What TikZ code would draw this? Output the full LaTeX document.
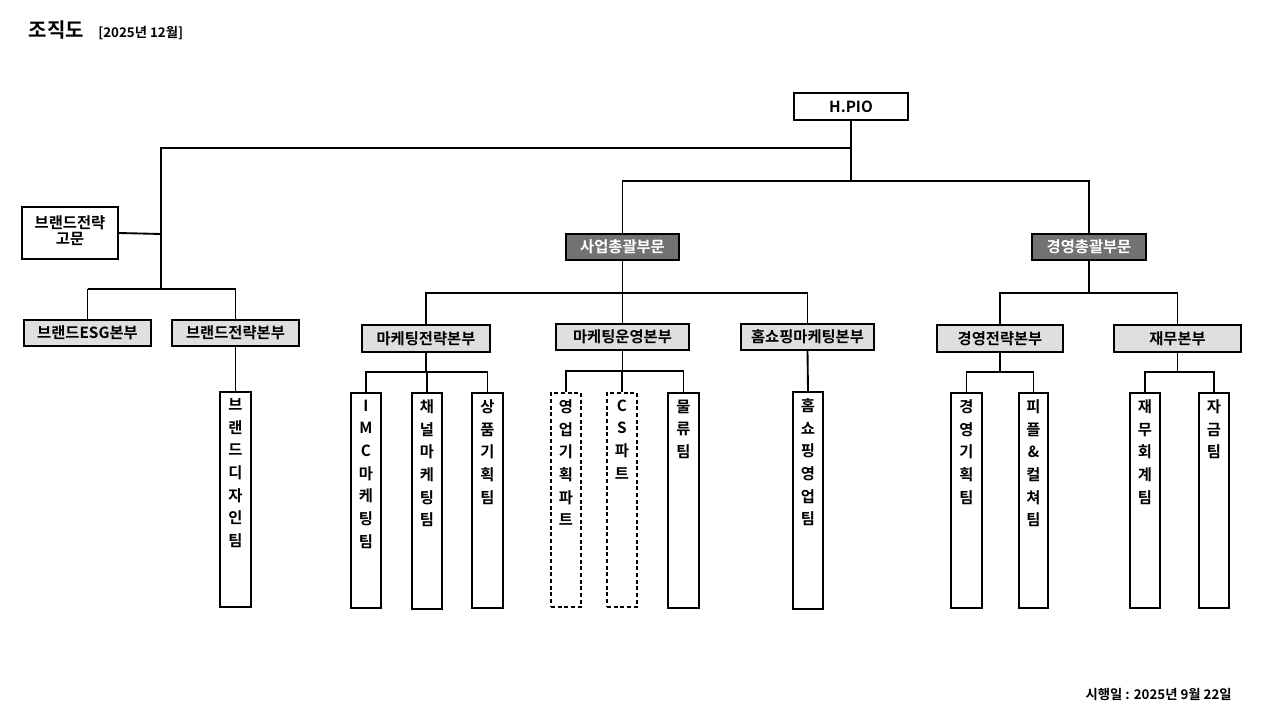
\documentclass[tikz,border=0pt]{standalone}
\usepackage{fontspec}
\setmainfont{Noto Sans CJK KR}[BoldFont={Noto Sans CJK KR Bold}]
\begin{document}
\begin{tikzpicture}[x=0.75pt,y=-0.75pt,
  ln/.style={line width=1.4pt},
  bx/.style={draw,line width=1.4pt,inner sep=0pt,font=\bfseries\fontsize{11.5}{14}\selectfont},
  lt/.style={bx,fill=gray!25},
  dk/.style={bx,fill=gray!70!black!85,text=white},
  dsh/.style={dash pattern=on 3pt off 2pt}]
\useasboundingbox (0,0) rectangle (1280,720);
\node[anchor=base west,font=\bfseries\fontsize{15}{18}\selectfont] (t1) at (24,38) {조직도};
\node[anchor=base west,font=\bfseries\fontsize{10}{12}\selectfont,inner sep=0pt] (t2) at (98,38) {[2025년 12월]};
\node[anchor=base east,font=\bfseries\fontsize{10}{12}\selectfont,inner sep=0pt] (ft) at (1232,699) {시행일 : 2025년 9월 22일};
\newcommand\hb[7][bx]{\node[#1,minimum width={(#4-#2)*0.75pt},minimum height={(#5-#3)*0.75pt}] (#6) at ({(#2+#4)/2},{(#3+#5)/2}) {#7};}
\newcommand\vb[7][bx]{\pgfmathsetlengthmacro\vbh{(#5-#3)*0.75pt-10pt}\pgfmathsetlengthmacro\vbw{(#4-#2)*0.75pt}%
\node[#1,minimum width={(#4-#2)*0.75pt},minimum height={(#5-#3)*0.75pt}] (#6) at ({(#2+#4)/2},{(#3+#5)/2}) {\parbox[c][\vbh][t]{\vbw}{\centering\baselineskip=17pt #7}};}
\hb{794}{93}{908}{120}{hpio}{H.PIO}
\hb{22}{207}{118}{259}{adv}{\begin{tabular}{@{}c@{}}브랜드전략\\[-2pt]고문\end{tabular}}
\hb[lt]{24}{320}{151}{346}{esg}{브랜드ESG본부}
\hb[lt]{172}{320}{299}{346}{bs}{브랜드전략본부}
\hb[dk]{566}{234}{679}{260}{sa}{사업총괄부문}
\hb[dk]{1032}{234}{1146}{260}{ky}{경영총괄부문}
\hb[lt]{362}{325}{490}{352}{ms}{마케팅전략본부}
\hb[lt]{556}{324}{689}{350}{mo}{마케팅운영본부}
\hb[lt]{741}{324}{874}{350}{hs}{홈쇼핑마케팅본부}
\hb[lt]{937}{325}{1063}{352}{ks}{경영전략본부}
\hb[lt]{1114}{325}{1241}{352}{jm}{재무본부}
\vb{220}{392}{251}{607}{bd}{브\\랜\\드\\디\\자\\인\\팀}
\vb{351}{393}{381}{608}{imc}{I\\M\\C\\마\\케\\팅\\팀}
\vb{412}{393}{442}{609}{ch}{채\\널\\마\\케\\팅\\팀}
\vb{472}{393}{503}{608}{sp}{상\\품\\기\\획\\팀}
\vb[bx,dsh]{551}{393}{581}{607}{yg}{영\\업\\기\\획\\파\\트}
\vb[bx,dsh]{607}{393}{637}{607}{cs}{C\\S\\파\\트}
\vb{668}{393}{699}{608}{ml}{물\\류\\팀}
\vb{793}{392}{823}{609}{hy}{홈\\쇼\\핑\\영\\업\\팀}
\vb{951}{393}{982}{608}{kg}{경\\영\\기\\획\\팀}
\vb{1019}{393}{1048}{608}{pc}{피\\플\\\&\\컬\\쳐\\팀}
\vb{1130}{393}{1160}{608}{jh}{재\\무\\회\\계\\팀}
\vb{1199}{393}{1229}{608}{jg}{자\\금\\팀}
% connectors
\draw[ln] (hpio.south) -- (hpio.south|-0,181) -| (sa.north);
\draw[ln] (hpio.south|-0,181) -| (ky.north);
\draw[ln] (hpio.south|-0,148) -| (161,289);
\draw[ln] (adv.east) -- (161,234);
\draw[ln] (88,289) -- (236,289);
\draw[ln] (esg.north) -- (esg.north|-0,289);
\draw[ln] (bs.north) -- (bs.north|-0,289);
\draw[ln] (bs.south) -- (bd.north);
\draw[ln] (sa.south) -- (sa.south|-0,293);
\draw[ln] (ms.north) |- (sa.south|-0,293) -| (hs.north);
\draw[ln] (sa.south|-0,293) -- (mo.north);
\draw[ln] (ky.south) -- (ky.south|-0,293);
\draw[ln] (ks.north) |- (ky.south|-0,293) -| (jm.north);
\draw[ln] (ms.south) -- (ms.south|-0,372);
\draw[ln] (imc.north) |- (ms.south|-0,372) -| (sp.north);
\draw[ln] (ch.north) -- (ch.north|-0,372);
\draw[ln] (mo.south) -- (mo.south|-0,371);
\draw[ln] (yg.north) |- (mo.south|-0,371) -| (ml.north);
\draw[ln] (cs.north) -- (cs.north|-0,371);
\draw[ln] (hs.south) -- (hy.north);
\draw[ln] (ks.south) -- (ks.south|-0,372);
\draw[ln] (kg.north) |- (ks.south|-0,372) -| (pc.north);
\draw[ln] (jm.south) -- (jm.south|-0,372);
\draw[ln] (jh.north) |- (jm.south|-0,372) -| (jg.north);
\end{tikzpicture}
\end{document}
